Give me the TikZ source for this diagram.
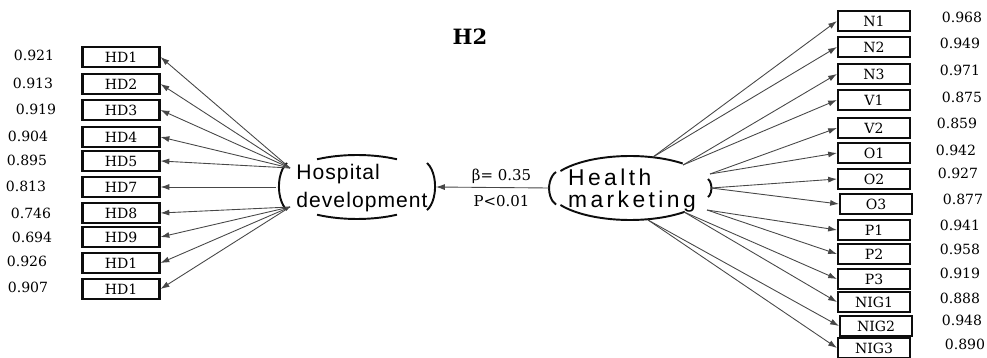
\documentclass[tikz,border=0pt]{standalone}
\usepackage{fontspec}
\usepackage{tikz}
\usetikzlibrary{
    arrows.meta,
    positioning
}
\newfontfamily\itemfont{DejaVu Serif}
\newfontfamily\hdfont[LetterSpace=5]{Liberation Sans}
\newfontfamily\hmfont[LetterSpace=15]{Liberation Sans}
\definecolor{lineC}{gray}{0.28}
\definecolor{boxC}{gray}{0.05}
\tikzset{
  item/.style   = {draw=boxC, line width=1.2pt, minimum width=1.54cm,
                   minimum height=0.40cm, inner sep=0pt,
                   font=\itemfont\fontsize{8}{9}\selectfont},
  ritem/.style  = {item, minimum width=1.44cm},
  load/.style   = {inner sep=0pt, text=black,
                   font=\itemfont\fontsize{8}{9}\selectfont},
  latent/.style = {align=left, inner sep=0pt, text=black},
  shell/.style  = {line width=1.1pt, boxC},
  ld/.style     = {-{Latex[length=5pt, width=3.4pt]}, lineC, line width=0.5pt}
}

\begin{document}
\begin{tikzpicture}[x=0.02cm, y=0.02cm]
  \useasboundingbox (0,0) rectangle (987,358);

  %% ── Title ─────────────────────────────────────────────────────
  \node[font=\itemfont\bfseries\fontsize{12}{14}\selectfont] (title) at (470,321) {H2};

  %% ── Latent variables ──────────────────────────────────────────
  \node[latent, font=\hdfont\fontsize{12}{16}\selectfont] (hd) at (362,170)
    {Hospital\\development};
  \node[latent, font=\hmfont\fontsize{13}{12.5}\selectfont] (hm) at (632,167)
    {Health\\marketing};

  % broken outline round "Hospital development"
  \draw[shell] ([shift={(60:1.6cm and 0.64cm)}]357,171)
    arc[start angle=60, end angle=120, x radius=1.6cm, y radius=0.64cm];
  \draw[shell] ([shift={(240:1.6cm and 0.64cm)}]357,171)
    arc[start angle=240, end angle=300, x radius=1.6cm, y radius=0.64cm];
  \draw[shell] (287,195) arc[start angle=115, end angle=245, x radius=0.28cm, y radius=0.52cm];
  \draw[shell] (427,195) arc[start angle=65, end angle=-65, x radius=0.28cm, y radius=0.52cm];

  % broken outline round "Health marketing"
  \draw[shell] ([shift={(50:1.64cm and 0.64cm)}]630,170)
    arc[start angle=50, end angle=148, x radius=1.64cm, y radius=0.64cm];
  \draw[shell] ([shift={(212:1.64cm and 0.64cm)}]630,170)
    arc[start angle=212, end angle=312, x radius=1.64cm, y radius=0.64cm];
  \draw[shell] (556,186) arc[start angle=115, end angle=245, x radius=0.24cm, y radius=0.36cm];
  \draw[shell] (708,179) arc[start angle=65, end angle=-65, x radius=0.12cm, y radius=0.20cm];

  %% ── Connector ends on the outlines ────────────────────────────
  \coordinate (hdU) at (290,190);
  \coordinate (hdM) at (276,171);
  \coordinate (hdL) at (290,151);
  \coordinate (hdE) at (436,171);
  \coordinate (hmW) at (549,170);
  \coordinate (hmA) at (653,201);
  \coordinate (hmB) at (683,193);
  \coordinate (hmC) at (710,184);
  \coordinate (hmD) at (711,170);
  \coordinate (hmE) at (707,148);
  \coordinate (hmF) at (684,146);
  \coordinate (hmG) at (648,138);

  %% ── Left indicators ───────────────────────────────────────────
  \node[item] (hd1)  at (121,301) {HD1};
  \node[item] (hd2)  at (121,274) {HD2};
  \node[item] (hd3)  at (121,248) {HD3};
  \node[item] (hd4)  at (121,221) {HD4};
  \node[item] (hd5)  at (121,197) {HD5};
  \node[item] (hd7)  at (121,171) {HD7};
  \node[item] (hd8)  at (121,145) {HD8};
  \node[item] (hd9)  at (121,121) {HD9};
  \node[item] (hd10) at (121, 95) {HD1};
  \node[item] (hd11) at (121, 69) {HD1};

  \node[load] (l1)  at (34,303) {0.921};
  \node[load] (l2)  at (33,275) {0.913};
  \node[load] (l3)  at (36,249) {0.919};
  \node[load] (l4)  at (28,222) {0.904};
  \node[load] (l5)  at (27,198) {0.895};
  \node[load] (l7)  at (26,172) {0.813};
  \node[load] (l8)  at (31,145) {0.746};
  \node[load] (l9)  at (32,121) {0.694};
  \node[load] (l10) at (27, 97) {0.926};
  \node[load] (l11) at (28, 71) {0.907};

  %% ── Right indicators ──────────────────────────────────────────
  \node[ritem] (n1)   at (874,337) {N1};
  \node[ritem] (n2)   at (874,311) {N2};
  \node[ritem] (n3)   at (874,284) {N3};
  \node[ritem] (v1)   at (874,258) {V1};
  \node[ritem] (v2)   at (874,230) {V2};
  \node[ritem] (o1)   at (874,205) {O1};
  \node[ritem] (o2)   at (874,179) {O2};
  \node[ritem] (o3)   at (876,154) {O3};
  \node[ritem] (p1)   at (874,128) {P1};
  \node[ritem] (p2)   at (874,104) {P2};
  \node[ritem] (p3)   at (874, 79) {P3};
  \node[ritem] (nig1) at (874, 56) {NIG1};
  \node[ritem] (nig2) at (876, 32) {NIG2};
  \node[ritem] (nig3) at (874, 10) {NIG3};

  \node[load] (r1)  at (962,341) {0.968};
  \node[load] (r2)  at (960,315) {0.949};
  \node[load] (r3)  at (960,288) {0.971};
  \node[load] (r4)  at (962,261) {0.875};
  \node[load] (r5)  at (957,235) {0.859};
  \node[load] (r6)  at (956,208) {0.942};
  \node[load] (r7)  at (958,185) {0.927};
  \node[load] (r8)  at (963,159) {0.877};
  \node[load] (r9)  at (960,133) {0.941};
  \node[load] (r10) at (960,109) {0.958};
  \node[load] (r11) at (960, 85) {0.919};
  \node[load] (r12) at (960, 60) {0.888};
  \node[load] (r13) at (962, 38) {0.948};
  \node[load] (r14) at (965, 14) {0.890};

  %% ── Structural path ───────────────────────────────────────────
  \draw[ld] (hmW) -- (hdE)
    node[pos=0.42, above=2pt, load, font=\itemfont\fontsize{8.5}{9}\selectfont] (beta) {β= 0.35}
    node[pos=0.42, below=4pt, load, font=\itemfont\fontsize{8.5}{9}\selectfont] (pval) {P<0.01};

  %% ── Loadings, Hospital development ────────────────────────────
  \draw[ld] (hdU) -- (hd1.east);
  \draw[ld] (hdU) -- (hd2.east);
  \draw[ld] (hdU) -- (hd3.east);
  \draw[ld] (hdU) -- (hd4.east);
  \draw[ld] (hdU) -- (hd5.east);
  \draw[ld] (hdM) -- (hd7.east);
  \draw[ld] (hdL) -- (hd8.east);
  \draw[ld] (hdL) -- (hd9.east);
  \draw[ld] (hdL) -- (hd10.east);
  \draw[ld] (hdL) -- (hd11.east);

  %% ── Loadings, Health marketing ────────────────────────────────
  \draw[ld] (hmA) -- (n1.west);
  \draw[ld] (hmA) -- (n2.west);
  \draw[ld] (hmB) -- (n3.west);
  \draw[ld] (hmB) -- (v1.west);
  \draw[ld] (hmC) -- (v2.west);
  \draw[ld] (hmC) -- (o1.west);
  \draw[ld] (hmD) -- (o2.west);
  \draw[ld] (hmD) -- (o3.west);
  \draw[ld] (hmE) -- (p1.west);
  \draw[ld] (hmE) -- (p2.west);
  \draw[ld] (hmF) -- (p3.west);
  \draw[ld] (hmF) -- (nig1.west);
  \draw[ld] (hmG) -- (nig2.west);
  \draw[ld] (hmG) -- (nig3.west);

\end{tikzpicture}
\end{document}
